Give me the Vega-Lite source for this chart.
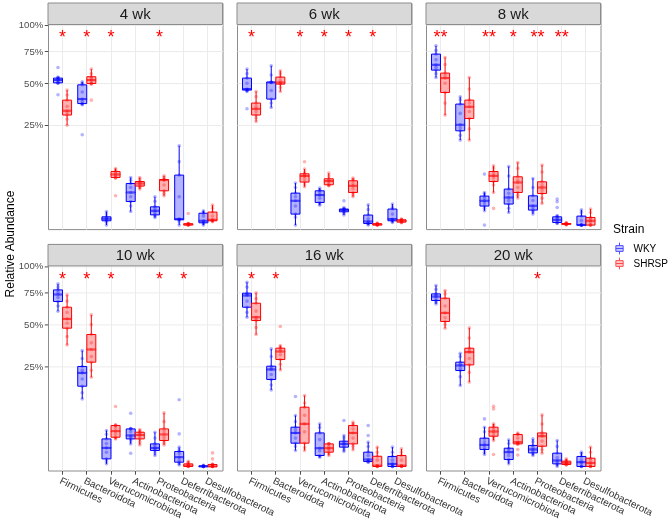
{
"$schema":"https://vega.github.io/schema/vega-lite/v6.json",
"padding":{"left":3,"top":2,"right":0,"bottom":0},
"title":{"text":"Relative Abundance","orient":"left","anchor":"middle","fontSize":12,"fontWeight":"normal","font":"Liberation Sans","color":"#000000","offset":1,"dx":17},
"datasets":{
"box":[
{"w":"4 wk","p":"Firmicutes","s":"WKY","v":[0.50,0.502,0.503,0.51,0.523,0.53,0.537,0.54,0.545],"o":[0.422,0.617]},
{"w":"4 wk","p":"Firmicutes","s":"SHRSP","v":[0.248,0.28,0.301,0.315,0.325,0.35,0.388,0.42,0.453],"o":[]},
{"w":"4 wk","p":"Bacteroidota","s":"WKY","v":[0.36,0.363,0.367,0.38,0.3945,0.44,0.489,0.50,0.51],"o":[0.203]},
{"w":"4 wk","p":"Bacteroidota","s":"SHRSP","v":[0.494,0.496,0.498,0.51,0.5225,0.535,0.547,0.57,0.605],"o":[0.388]},
{"w":"4 wk","p":"Verrucomicrobiota","s":"WKY","v":[0,0.0002,0.00046,0.0007,0.001,0.0013,0.0017,0.003,0.0046],"o":[]},
{"w":"4 wk","p":"Verrucomicrobiota","s":"SHRSP","v":[0.055,0.0555,0.0563,0.06,0.0636,0.067,0.0714,0.075,0.0796],"o":[0.0213]},
{"w":"4 wk","p":"Actinobacteriota","s":"WKY","v":[0.0046,0.009,0.0138,0.02,0.0264,0.035,0.043,0.05,0.0563],"o":[]},
{"w":"4 wk","p":"Actinobacteriota","s":"SHRSP","v":[0.0322,0.035,0.0378,0.04,0.043,0.045,0.0472,0.052,0.0563],"o":[]},
{"w":"4 wk","p":"Proteobacteria","s":"WKY","v":[0.0014,0.002,0.0026,0.004,0.0051,0.007,0.0083,0.014,0.0199],"o":[]},
{"w":"4 wk","p":"Proteobacteria","s":"SHRSP","v":[0.0213,0.025,0.0292,0.04,0.0503,0.051,0.0517,0.056,0.0604],"o":[]},
{"w":"4 wk","p":"Deferribacterota","s":"WKY","v":[0,0.0003,0.0007,0.0008,0.0009,0.02,0.0621,0.1,0.1563],"o":[]},
{"w":"4 wk","p":"Deferribacterota","s":"SHRSP","v":[0,0,0,0.00001,0.00002,0.00003,0.00004,0.00005,0.00006],"o":[0.0033]},
{"w":"4 wk","p":"Desulfobacterota","s":"WKY","v":[0,0.00005,0.00013,0.0003,0.00046,0.002,0.0035,0.0042,0.0051],"o":[]},
{"w":"4 wk","p":"Desulfobacterota","s":"SHRSP","v":[0.00027,0.0004,0.00046,0.0006,0.0007,0.002,0.0042,0.007,0.0099],"o":[]},
{"w":"6 wk","p":"Firmicutes","s":"WKY","v":[0.4436,0.448,0.453,0.456,0.46,0.5,0.537,0.57,0.605],"o":[0.336]},
{"w":"6 wk","p":"Firmicutes","s":"SHRSP","v":[0.2667,0.285,0.301,0.32,0.336,0.35,0.37,0.41,0.4436],"o":[]},
{"w":"6 wk","p":"Bacteroidota","s":"WKY","v":[0.3437,0.37,0.3945,0.45,0.5053,0.506,0.508,0.56,0.6306],"o":[]},
{"w":"6 wk","p":"Bacteroidota","s":"SHRSP","v":[0.4436,0.47,0.494,0.5,0.5053,0.52,0.5443,0.57,0.5917],"o":[]},
{"w":"6 wk","p":"Verrucomicrobiota","s":"WKY","v":[0,0.0015,0.003,0.009,0.0147,0.02,0.0254,0.035,0.0438],"o":[]},
{"w":"6 wk","p":"Verrucomicrobiota","s":"SHRSP","v":[0.0365,0.041,0.046,0.053,0.0597,0.062,0.0654,0.07,0.078],"o":[0.0996]},
{"w":"6 wk","p":"Actinobacteriota","s":"WKY","v":[0.0099,0.011,0.0127,0.018,0.0224,0.026,0.0292,0.031,0.034],"o":[]},
{"w":"6 wk","p":"Actinobacteriota","s":"SHRSP","v":[0.0384,0.039,0.0404,0.044,0.0481,0.05,0.0533,0.06,0.0672],"o":[]},
{"w":"6 wk","p":"Proteobacteria","s":"WKY","v":[0.0025,0.0035,0.0044,0.005,0.0056,0.006,0.0064,0.007,0.0074],"o":[0.0147]},
{"w":"6 wk","p":"Proteobacteria","s":"SHRSP","v":[0.0199,0.023,0.0264,0.033,0.0384,0.043,0.0488,0.052,0.0549],"o":[]},
{"w":"6 wk","p":"Deferribacterota","s":"WKY","v":[0,0.00003,0.00006,0.0002,0.00032,0.001,0.0025,0.006,0.0102],"o":[]},
{"w":"6 wk","p":"Deferribacterota","s":"SHRSP","v":[0,0,0,0.00001,0.00002,0.00003,0.00004,0.00005,0.0001],"o":[]},
{"w":"6 wk","p":"Desulfobacterota","s":"WKY","v":[0.00017,0.0003,0.00046,0.0007,0.0009,0.003,0.0064,0.008,0.011],"o":[]},
{"w":"6 wk","p":"Desulfobacterota","s":"SHRSP","v":[0.00013,0.00018,0.00022,0.0003,0.00046,0.0006,0.0007,0.0008,0.0009],"o":[]},
{"w":"8 wk","p":"Firmicutes","s":"WKY","v":[0.5414,0.57,0.597,0.62,0.6386,0.68,0.7266,0.76,0.7989],"o":[]},
{"w":"8 wk","p":"Firmicutes","s":"SHRSP","v":[0.3007,0.37,0.437,0.5,0.537,0.555,0.5741,0.64,0.698],"o":[]},
{"w":"8 wk","p":"Bacteroidota","s":"WKY","v":[0.1795,0.2,0.221,0.235,0.25,0.31,0.3638,0.39,0.4091],"o":[]},
{"w":"8 wk","p":"Bacteroidota","s":"SHRSP","v":[0.1795,0.23,0.2824,0.32,0.3478,0.37,0.3883,0.46,0.5414],"o":[]},
{"w":"8 wk","p":"Verrucomicrobiota","s":"WKY","v":[0.0051,0.007,0.009,0.012,0.0147,0.018,0.0209,0.024,0.0264],"o":[0.0646,0]},
{"w":"8 wk","p":"Verrucomicrobiota","s":"SHRSP","v":[0.0264,0.04,0.0472,0.055,0.0604,0.065,0.0714,0.08,0.0874],"o":[0.0069]},
{"w":"8 wk","p":"Actinobacteriota","s":"WKY","v":[0.0039,0.007,0.011,0.015,0.0189,0.025,0.0322,0.06,0.0853],"o":[]},
{"w":"8 wk","p":"Actinobacteriota","s":"SHRSP","v":[0.0181,0.022,0.0264,0.035,0.0451,0.05,0.058,0.08,0.0974],"o":[]},
{"w":"8 wk","p":"Proteobacteria","s":"WKY","v":[0.003,0.0045,0.0056,0.0075,0.0093,0.015,0.0213,0.035,0.054],"o":[]},
{"w":"8 wk","p":"Proteobacteria","s":"SHRSP","v":[0.0116,0.018,0.0248,0.03,0.0351,0.04,0.0466,0.07,0.0895],"o":[]},
{"w":"8 wk","p":"Deferribacterota","s":"WKY","v":[0.00006,0.0001,0.00017,0.0004,0.0007,0.0012,0.0017,0.002,0.0022],"o":[0.0168,0.0135,0.0077]},
{"w":"8 wk","p":"Deferribacterota","s":"SHRSP","v":[0,0.00001,0.00002,0.00002,0.00003,0.00004,0.00006,0.0001,0.00015],"o":[]},
{"w":"8 wk","p":"Desulfobacterota","s":"WKY","v":[0,0,0,0,0,0.0005,0.002,0.004,0.0058],"o":[]},
{"w":"8 wk","p":"Desulfobacterota","s":"SHRSP","v":[0,0,0,0.0002,0.00046,0.001,0.00144,0.004,0.0064],"o":[]},
{"w":"10 wk","p":"Firmicutes","s":"WKY","v":[0.5994,0.64,0.6766,0.71,0.7352,0.755,0.775,0.8,0.8286],"o":[]},
{"w":"10 wk","p":"Firmicutes","s":"SHRSP","v":[0.3675,0.42,0.4753,0.51,0.5414,0.59,0.6306,0.68,0.7318],"o":[]},
{"w":"10 wk","p":"Bacteroidota","s":"WKY","v":[0.1136,0.135,0.1602,0.19,0.2177,0.23,0.2485,0.29,0.3335],"o":[]},
{"w":"10 wk","p":"Bacteroidota","s":"SHRSP","v":[0.1982,0.23,0.2704,0.3,0.3402,0.38,0.433,0.5,0.5711],"o":[]},
{"w":"10 wk","p":"Verrucomicrobiota","s":"WKY","v":[0.00017,0.0007,0.00144,0.005,0.0086,0.013,0.0189,0.026,0.0322],"o":[]},
{"w":"10 wk","p":"Verrucomicrobiota","s":"SHRSP","v":[0.0189,0.02,0.0213,0.026,0.031,0.037,0.0418,0.042,0.043],"o":[0.0895]},
{"w":"10 wk","p":"Actinobacteriota","s":"WKY","v":[0.0127,0.016,0.0189,0.021,0.0239,0.03,0.0351,0.0355,0.036],"o":[0.0706,0.0044]},
{"w":"10 wk","p":"Actinobacteriota","s":"SHRSP","v":[0.0116,0.015,0.0189,0.022,0.0248,0.027,0.0292,0.031,0.034],"o":[]},
{"w":"10 wk","p":"Proteobacteria","s":"WKY","v":[0.003,0.0045,0.0064,0.0075,0.0086,0.011,0.0127,0.02,0.0292],"o":[]},
{"w":"10 wk","p":"Proteobacteria","s":"SHRSP","v":[0.0116,0.014,0.0168,0.021,0.0255,0.03,0.0351,0.05,0.0714],"o":[]},
{"w":"10 wk","p":"Deferribacterota","s":"WKY","v":[0.00006,0.0002,0.00046,0.001,0.00215,0.004,0.0056,0.007,0.0093],"o":[0.1106,0.0264]},
{"w":"10 wk","p":"Deferribacterota","s":"SHRSP","v":[0,0,0,0.00001,0.00002,0.0001,0.00017,0.0004,0.0007],"o":[]},
{"w":"10 wk","p":"Desulfobacterota","s":"WKY","v":[0,0,0,0,0,0,0.00001,0.00002,0.00003],"o":[]},
{"w":"10 wk","p":"Desulfobacterota","s":"SHRSP","v":[0,0,0,0,0,0.00005,0.0001,0.00012,0.00013],"o":[0.0046,0.00144]},
{"w":"16 wk","p":"Firmicutes","s":"WKY","v":[0.554,0.59,0.6306,0.68,0.7266,0.735,0.7464,0.8,0.844],"o":[]},
{"w":"16 wk","p":"Firmicutes","s":"SHRSP","v":[0.433,0.48,0.5297,0.54,0.554,0.6,0.6627,0.7,0.749],"o":[]},
{"w":"16 wk","p":"Bacteroidota","s":"WKY","v":[0.1458,0.165,0.1881,0.21,0.2338,0.24,0.25,0.3,0.3437],"o":[]},
{"w":"16 wk","p":"Bacteroidota","s":"SHRSP","v":[0.2319,0.26,0.2845,0.31,0.3287,0.34,0.3478,0.355,0.3638],"o":[0.4871]},
{"w":"16 wk","p":"Verrucomicrobiota","s":"WKY","v":[0.0064,0.01,0.0135,0.02,0.028,0.033,0.0384,0.05,0.0646],"o":[0.1218]},
{"w":"16 wk","p":"Verrucomicrobiota","s":"SHRSP","v":[0.0064,0.009,0.0135,0.03,0.0451,0.065,0.0874,0.1,0.1249],"o":[]},
{"w":"16 wk","p":"Actinobacteriota","s":"WKY","v":[0.00215,0.0025,0.003,0.006,0.0083,0.018,0.028,0.038,0.0451],"o":[]},
{"w":"16 wk","p":"Actinobacteriota","s":"SHRSP","v":[0.003,0.004,0.0051,0.007,0.0083,0.01,0.0127,0.0128,0.013],"o":[]},
{"w":"16 wk","p":"Proteobacteria","s":"WKY","v":[0.0056,0.007,0.0093,0.011,0.0127,0.014,0.0159,0.02,0.0239],"o":[0.0526]},
{"w":"16 wk","p":"Proteobacteria","s":"SHRSP","v":[0.0069,0.01,0.0127,0.02,0.028,0.035,0.0418,0.045,0.0488],"o":[]},
{"w":"16 wk","p":"Deferribacterota","s":"WKY","v":[0.00046,0.0005,0.0006,0.0009,0.0012,0.003,0.0051,0.01,0.0147],"o":[0.0418,0.0239]},
{"w":"16 wk","p":"Deferribacterota","s":"SHRSP","v":[0,0,0,0.00001,0.00002,0.001,0.0026,0.005,0.0093],"o":[]},
{"w":"16 wk","p":"Desulfobacterota","s":"WKY","v":[0,0,0,0.0001,0.00017,0.001,0.0025,0.005,0.0093],"o":[]},
{"w":"16 wk","p":"Desulfobacterota","s":"SHRSP","v":[0,0,0,0.00001,0.00002,0.001,0.003,0.005,0.0077],"o":[]},
{"w":"20 wk","p":"Firmicutes","s":"WKY","v":[0.657,0.67,0.6848,0.7,0.718,0.73,0.7403,0.78,0.8141],"o":[]},
{"w":"20 wk","p":"Firmicutes","s":"SHRSP","v":[0.4753,0.5,0.5225,0.55,0.5863,0.64,0.7039,0.74,0.7698],"o":[]},
{"w":"20 wk","p":"Bacteroidota","s":"WKY","v":[0.163,0.2,0.229,0.24,0.2535,0.26,0.2704,0.3,0.3184],"o":[]},
{"w":"20 wk","p":"Bacteroidota","s":"SHRSP","v":[0.177,0.22,0.2565,0.29,0.325,0.335,0.3478,0.41,0.4774],"o":[]},
{"w":"20 wk","p":"Verrucomicrobiota","s":"WKY","v":[0.0036,0.005,0.0072,0.009,0.0116,0.015,0.0199,0.03,0.0384],"o":[0.0563]},
{"w":"20 wk","p":"Verrucomicrobiota","s":"SHRSP","v":[0.0168,0.02,0.0228,0.027,0.0304,0.034,0.0384,0.042,0.0451],"o":[0.09,0.0824,0.0036]},
{"w":"20 wk","p":"Actinobacteriota","s":"WKY","v":[0.00017,0.0006,0.0012,0.003,0.0051,0.007,0.0083,0.013,0.0176],"o":[]},
{"w":"20 wk","p":"Actinobacteriota","s":"SHRSP","v":[0.0127,0.0127,0.0127,0.014,0.0147,0.02,0.0254,0.026,0.0276],"o":[0.0072,0.0033]},
{"w":"20 wk","p":"Proteobacteria","s":"WKY","v":[0.003,0.0038,0.0046,0.006,0.0072,0.009,0.011,0.015,0.0189],"o":[]},
{"w":"20 wk","p":"Proteobacteria","s":"SHRSP","v":[0.0044,0.007,0.0102,0.016,0.0228,0.025,0.028,0.045,0.0662],"o":[]},
{"w":"20 wk","p":"Deferribacterota","s":"WKY","v":[0,0.00008,0.00017,0.0005,0.0009,0.002,0.0044,0.01,0.0168],"o":[]},
{"w":"20 wk","p":"Deferribacterota","s":"SHRSP","v":[0.00006,0.00008,0.0001,0.0002,0.00032,0.0005,0.0007,0.001,0.00144],"o":[]},
{"w":"20 wk","p":"Desulfobacterota","s":"WKY","v":[0,0,0,0.0002,0.00046,0.001,0.0025,0.004,0.0051],"o":[]},
{"w":"20 wk","p":"Desulfobacterota","s":"SHRSP","v":[0,0,0,0.0001,0.00032,0.001,0.0017,0.005,0.0093],"o":[]}
],
"stars":[
{"w":"4 wk","p":"Firmicutes","t":"*"},{"w":"4 wk","p":"Bacteroidota","t":"*"},{"w":"4 wk","p":"Verrucomicrobiota","t":"*"},{"w":"4 wk","p":"Proteobacteria","t":"*"},
{"w":"6 wk","p":"Firmicutes","t":"*"},{"w":"6 wk","p":"Verrucomicrobiota","t":"*"},{"w":"6 wk","p":"Actinobacteriota","t":"*"},{"w":"6 wk","p":"Proteobacteria","t":"*"},{"w":"6 wk","p":"Deferribacterota","t":"*"},
{"w":"8 wk","p":"Firmicutes","t":"**"},{"w":"8 wk","p":"Verrucomicrobiota","t":"**"},{"w":"8 wk","p":"Actinobacteriota","t":"*"},{"w":"8 wk","p":"Proteobacteria","t":"**"},{"w":"8 wk","p":"Deferribacterota","t":"**"},
{"w":"10 wk","p":"Firmicutes","t":"*"},{"w":"10 wk","p":"Bacteroidota","t":"*"},{"w":"10 wk","p":"Verrucomicrobiota","t":"*"},{"w":"10 wk","p":"Proteobacteria","t":"*"},{"w":"10 wk","p":"Deferribacterota","t":"*"},
{"w":"16 wk","p":"Firmicutes","t":"*"},{"w":"16 wk","p":"Bacteroidota","t":"*"},
{"w":"20 wk","p":"Proteobacteria","t":"*"}
],
"weeks":[{"w":"4 wk"},{"w":"6 wk"},{"w":"8 wk"},{"w":"10 wk"},{"w":"16 wk"},{"w":"20 wk"}]
},
"columns":3,
"bounds":"flush",
"spacing":{"row":14.4,"column":14},
"concat":[
{"width":174.5,"height":226.1,"layer":[
{"data":{"name":"box"},"transform":[{"filter":"datum.w==='4 wk'"},{"flatten":["v"],"as":["y"]}],
"mark":{"type":"boxplot","extent":"min-max","size":9,"box":{"strokeWidth":1},"median":{"strokeWidth":1,"thickness":1},"rule":{"strokeWidth":1},"ticks":false},
"encoding":{
"x":{"field":"p","type":"nominal","title":null,"sort":["Firmicutes","Bacteroidota","Verrucomicrobiota","Actinobacteriota","Proteobacteria","Deferribacterota","Desulfobacterota"],"scale":{"paddingInner":0,"paddingOuter":0.1},"axis":{"bandPosition":0.5,"labels":false,"ticks":false,"grid":true}},
"xOffset":{"field":"s","type":"nominal","sort":["WKY","SHRSP"],"scale":{"paddingInner":0,"paddingOuter":0.333}},
"y":{"field":"y","type":"quantitative","title":null,"scale":{"type":"sqrt","domain":[-0.0004,1.2259],"nice":false,"zero":false},"axis":{"values":[0.25,0.5,0.75,1],"format":".0%","labelPadding":1.5,"tickSize":3.7,"grid":true}},
"fill":{"field":"s","type":"nominal","title":"Strain","scale":{"domain":["WKY","SHRSP"],"range":["#b3b3ff","#ffb3b3"]},"legend":{"title":"Strain","orient":"none","legendX":565,"legendY":221,"symbolType":"M-0.62,-0.49H0.62V0.49H-0.62Z M-0.62,0H0.62 M0,-0.49V-1 M0,0.49V1","symbolSize":137,"symbolStrokeWidth":1,"titleFontSize":12,"titleFontWeight":"normal","titleFont":"Liberation Sans","titleColor":"#000000","titlePadding":6,"labelFontSize":10,"labelFont":"Liberation Sans","labelColor":"#000000","labelOffset":7.5,"rowPadding":-4}},
"stroke":{"field":"s","type":"nominal","title":"Strain","scale":{"domain":["WKY","SHRSP"],"range":["#0000ff","#ff0000"]},"legend":{"title":"Strain","orient":"none","legendX":565,"legendY":221,"symbolType":"M-0.62,-0.49H0.62V0.49H-0.62Z M-0.62,0H0.62 M0,-0.49V-1 M0,0.49V1","symbolSize":137,"symbolStrokeWidth":1,"titleFontSize":12,"titleFontWeight":"normal","titleFont":"Liberation Sans","titleColor":"#000000","titlePadding":6,"labelFontSize":10,"labelFont":"Liberation Sans","labelColor":"#000000","labelOffset":7.5,"rowPadding":-4}}
}},
{"data":{"name":"box"},"transform":[{"filter":"datum.w==='4 wk'"},{"fold":["v","o"],"as":["k","arr"]},{"flatten":["arr"],"as":["y"]}],
"mark":{"type":"circle","size":13,"opacity":1,"blend":"multiply"},
"encoding":{"x":{"field":"p","type":"nominal","sort":["Firmicutes","Bacteroidota","Verrucomicrobiota","Actinobacteriota","Proteobacteria","Deferribacterota","Desulfobacterota"]},"xOffset":{"field":"s","type":"nominal","sort":["WKY","SHRSP"]},"y":{"field":"y","type":"quantitative"},"fill":{"field":"s","type":"nominal","title":"Strain"}}},
{"data":{"name":"stars"},"transform":[{"filter":"datum.w==='4 wk'"}],
"mark":{"type":"text","color":"#ff0000","fontSize":18,"baseline":"alphabetic","font":"Liberation Sans"},
"encoding":{"x":{"field":"p","type":"nominal","sort":["Firmicutes","Bacteroidota","Verrucomicrobiota","Actinobacteriota","Proteobacteria","Deferribacterota","Desulfobacterota"]},"y":{"datum":0.82},"text":{"field":"t"}}},
{"data":{"name":"weeks"},"transform":[{"filter":"datum.w==='4 wk'"}],"mark":{"type":"rect","fill":"#d9d9d9","stroke":"#8c8c8c","strokeWidth":1},"encoding":{"y":{"datum":1},"y2":{"datum":1.2259}}},
{"data":{"name":"weeks"},"transform":[{"filter":"datum.w==='4 wk'"}],"mark":{"type":"text","fontSize":15,"font":"Liberation Sans","color":"#1a1a1a","baseline":"middle"},"encoding":{"y":{"datum":1.107},"text":{"field":"w"}}}
]},
{"width":174.5,"height":226.1,"layer":[
{"data":{"name":"box"},"transform":[{"filter":"datum.w==='6 wk'"},{"flatten":["v"],"as":["y"]}],
"mark":{"type":"boxplot","extent":"min-max","size":9,"box":{"strokeWidth":1},"median":{"strokeWidth":1,"thickness":1},"rule":{"strokeWidth":1},"ticks":false},
"encoding":{
"x":{"field":"p","type":"nominal","title":null,"sort":["Firmicutes","Bacteroidota","Verrucomicrobiota","Actinobacteriota","Proteobacteria","Deferribacterota","Desulfobacterota"],"scale":{"paddingInner":0,"paddingOuter":0.1},"axis":{"bandPosition":0.5,"labels":false,"ticks":false,"grid":true}},
"xOffset":{"field":"s","type":"nominal","sort":["WKY","SHRSP"],"scale":{"paddingInner":0,"paddingOuter":0.333}},
"y":{"field":"y","type":"quantitative","title":null,"scale":{"type":"sqrt","domain":[-0.0004,1.2259],"nice":false,"zero":false},"axis":{"values":[0.25,0.5,0.75,1],"labels":false,"ticks":false,"grid":true}},
"fill":{"field":"s","type":"nominal","title":"Strain"},
"stroke":{"field":"s","type":"nominal","title":"Strain"}
}},
{"data":{"name":"box"},"transform":[{"filter":"datum.w==='6 wk'"},{"fold":["v","o"],"as":["k","arr"]},{"flatten":["arr"],"as":["y"]}],
"mark":{"type":"circle","size":13,"opacity":1,"blend":"multiply"},
"encoding":{"x":{"field":"p","type":"nominal","sort":["Firmicutes","Bacteroidota","Verrucomicrobiota","Actinobacteriota","Proteobacteria","Deferribacterota","Desulfobacterota"]},"xOffset":{"field":"s","type":"nominal","sort":["WKY","SHRSP"]},"y":{"field":"y","type":"quantitative"},"fill":{"field":"s","type":"nominal","title":"Strain"}}},
{"data":{"name":"stars"},"transform":[{"filter":"datum.w==='6 wk'"}],
"mark":{"type":"text","color":"#ff0000","fontSize":18,"baseline":"alphabetic","font":"Liberation Sans"},
"encoding":{"x":{"field":"p","type":"nominal","sort":["Firmicutes","Bacteroidota","Verrucomicrobiota","Actinobacteriota","Proteobacteria","Deferribacterota","Desulfobacterota"]},"y":{"datum":0.82},"text":{"field":"t"}}},
{"data":{"name":"weeks"},"transform":[{"filter":"datum.w==='6 wk'"}],"mark":{"type":"rect","fill":"#d9d9d9","stroke":"#8c8c8c","strokeWidth":1},"encoding":{"y":{"datum":1},"y2":{"datum":1.2259}}},
{"data":{"name":"weeks"},"transform":[{"filter":"datum.w==='6 wk'"}],"mark":{"type":"text","fontSize":15,"font":"Liberation Sans","color":"#1a1a1a","baseline":"middle"},"encoding":{"y":{"datum":1.107},"text":{"field":"w"}}}
]},
{"width":174.5,"height":226.1,"layer":[
{"data":{"name":"box"},"transform":[{"filter":"datum.w==='8 wk'"},{"flatten":["v"],"as":["y"]}],
"mark":{"type":"boxplot","extent":"min-max","size":9,"box":{"strokeWidth":1},"median":{"strokeWidth":1,"thickness":1},"rule":{"strokeWidth":1},"ticks":false},
"encoding":{
"x":{"field":"p","type":"nominal","title":null,"sort":["Firmicutes","Bacteroidota","Verrucomicrobiota","Actinobacteriota","Proteobacteria","Deferribacterota","Desulfobacterota"],"scale":{"paddingInner":0,"paddingOuter":0.1},"axis":{"bandPosition":0.5,"labels":false,"ticks":false,"grid":true}},
"xOffset":{"field":"s","type":"nominal","sort":["WKY","SHRSP"],"scale":{"paddingInner":0,"paddingOuter":0.333}},
"y":{"field":"y","type":"quantitative","title":null,"scale":{"type":"sqrt","domain":[-0.0004,1.2259],"nice":false,"zero":false},"axis":{"values":[0.25,0.5,0.75,1],"labels":false,"ticks":false,"grid":true}},
"fill":{"field":"s","type":"nominal","title":"Strain"},
"stroke":{"field":"s","type":"nominal","title":"Strain"}
}},
{"data":{"name":"box"},"transform":[{"filter":"datum.w==='8 wk'"},{"fold":["v","o"],"as":["k","arr"]},{"flatten":["arr"],"as":["y"]}],
"mark":{"type":"circle","size":13,"opacity":1,"blend":"multiply"},
"encoding":{"x":{"field":"p","type":"nominal","sort":["Firmicutes","Bacteroidota","Verrucomicrobiota","Actinobacteriota","Proteobacteria","Deferribacterota","Desulfobacterota"]},"xOffset":{"field":"s","type":"nominal","sort":["WKY","SHRSP"]},"y":{"field":"y","type":"quantitative"},"fill":{"field":"s","type":"nominal","title":"Strain"}}},
{"data":{"name":"stars"},"transform":[{"filter":"datum.w==='8 wk'"}],
"mark":{"type":"text","color":"#ff0000","fontSize":18,"baseline":"alphabetic","font":"Liberation Sans"},
"encoding":{"x":{"field":"p","type":"nominal","sort":["Firmicutes","Bacteroidota","Verrucomicrobiota","Actinobacteriota","Proteobacteria","Deferribacterota","Desulfobacterota"]},"y":{"datum":0.82},"text":{"field":"t"}}},
{"data":{"name":"weeks"},"transform":[{"filter":"datum.w==='8 wk'"}],"mark":{"type":"rect","fill":"#d9d9d9","stroke":"#8c8c8c","strokeWidth":1},"encoding":{"y":{"datum":1},"y2":{"datum":1.2259}}},
{"data":{"name":"weeks"},"transform":[{"filter":"datum.w==='8 wk'"}],"mark":{"type":"text","fontSize":15,"font":"Liberation Sans","color":"#1a1a1a","baseline":"middle"},"encoding":{"y":{"datum":1.107},"text":{"field":"w"}}}
]},
{"width":174.5,"height":226.1,"layer":[
{"data":{"name":"box"},"transform":[{"filter":"datum.w==='10 wk'"},{"flatten":["v"],"as":["y"]}],
"mark":{"type":"boxplot","extent":"min-max","size":9,"box":{"strokeWidth":1},"median":{"strokeWidth":1,"thickness":1},"rule":{"strokeWidth":1},"ticks":false},
"encoding":{
"x":{"field":"p","type":"nominal","title":null,"sort":["Firmicutes","Bacteroidota","Verrucomicrobiota","Actinobacteriota","Proteobacteria","Deferribacterota","Desulfobacterota"],"scale":{"paddingInner":0,"paddingOuter":0.1},"axis":{"bandPosition":0.5,"labelAngle":26,"labelAlign":"left","labelBaseline":"top","labelOverlap":false,"tickSize":3.7,"labelFontSize":10,"labelColor":"#333333","labelPadding":1,"grid":true}},
"xOffset":{"field":"s","type":"nominal","sort":["WKY","SHRSP"],"scale":{"paddingInner":0,"paddingOuter":0.333}},
"y":{"field":"y","type":"quantitative","title":null,"scale":{"type":"sqrt","domain":[-0.0004,1.2259],"nice":false,"zero":false},"axis":{"values":[0.25,0.5,0.75,1],"format":".0%","labelPadding":1.5,"tickSize":3.7,"grid":true}},
"fill":{"field":"s","type":"nominal","title":"Strain"},
"stroke":{"field":"s","type":"nominal","title":"Strain"}
}},
{"data":{"name":"box"},"transform":[{"filter":"datum.w==='10 wk'"},{"fold":["v","o"],"as":["k","arr"]},{"flatten":["arr"],"as":["y"]}],
"mark":{"type":"circle","size":13,"opacity":1,"blend":"multiply"},
"encoding":{"x":{"field":"p","type":"nominal","sort":["Firmicutes","Bacteroidota","Verrucomicrobiota","Actinobacteriota","Proteobacteria","Deferribacterota","Desulfobacterota"]},"xOffset":{"field":"s","type":"nominal","sort":["WKY","SHRSP"]},"y":{"field":"y","type":"quantitative"},"fill":{"field":"s","type":"nominal","title":"Strain"}}},
{"data":{"name":"stars"},"transform":[{"filter":"datum.w==='10 wk'"}],
"mark":{"type":"text","color":"#ff0000","fontSize":18,"baseline":"alphabetic","font":"Liberation Sans"},
"encoding":{"x":{"field":"p","type":"nominal","sort":["Firmicutes","Bacteroidota","Verrucomicrobiota","Actinobacteriota","Proteobacteria","Deferribacterota","Desulfobacterota"]},"y":{"datum":0.82},"text":{"field":"t"}}},
{"data":{"name":"weeks"},"transform":[{"filter":"datum.w==='10 wk'"}],"mark":{"type":"rect","fill":"#d9d9d9","stroke":"#8c8c8c","strokeWidth":1},"encoding":{"y":{"datum":1},"y2":{"datum":1.2259}}},
{"data":{"name":"weeks"},"transform":[{"filter":"datum.w==='10 wk'"}],"mark":{"type":"text","fontSize":15,"font":"Liberation Sans","color":"#1a1a1a","baseline":"middle"},"encoding":{"y":{"datum":1.107},"text":{"field":"w"}}}
]},
{"width":174.5,"height":226.1,"layer":[
{"data":{"name":"box"},"transform":[{"filter":"datum.w==='16 wk'"},{"flatten":["v"],"as":["y"]}],
"mark":{"type":"boxplot","extent":"min-max","size":9,"box":{"strokeWidth":1},"median":{"strokeWidth":1,"thickness":1},"rule":{"strokeWidth":1},"ticks":false},
"encoding":{
"x":{"field":"p","type":"nominal","title":null,"sort":["Firmicutes","Bacteroidota","Verrucomicrobiota","Actinobacteriota","Proteobacteria","Deferribacterota","Desulfobacterota"],"scale":{"paddingInner":0,"paddingOuter":0.1},"axis":{"bandPosition":0.5,"labelAngle":26,"labelAlign":"left","labelBaseline":"top","labelOverlap":false,"tickSize":3.7,"labelFontSize":10,"labelColor":"#333333","labelPadding":1,"grid":true}},
"xOffset":{"field":"s","type":"nominal","sort":["WKY","SHRSP"],"scale":{"paddingInner":0,"paddingOuter":0.333}},
"y":{"field":"y","type":"quantitative","title":null,"scale":{"type":"sqrt","domain":[-0.0004,1.2259],"nice":false,"zero":false},"axis":{"values":[0.25,0.5,0.75,1],"labels":false,"ticks":false,"grid":true}},
"fill":{"field":"s","type":"nominal","title":"Strain"},
"stroke":{"field":"s","type":"nominal","title":"Strain"}
}},
{"data":{"name":"box"},"transform":[{"filter":"datum.w==='16 wk'"},{"fold":["v","o"],"as":["k","arr"]},{"flatten":["arr"],"as":["y"]}],
"mark":{"type":"circle","size":13,"opacity":1,"blend":"multiply"},
"encoding":{"x":{"field":"p","type":"nominal","sort":["Firmicutes","Bacteroidota","Verrucomicrobiota","Actinobacteriota","Proteobacteria","Deferribacterota","Desulfobacterota"]},"xOffset":{"field":"s","type":"nominal","sort":["WKY","SHRSP"]},"y":{"field":"y","type":"quantitative"},"fill":{"field":"s","type":"nominal","title":"Strain"}}},
{"data":{"name":"stars"},"transform":[{"filter":"datum.w==='16 wk'"}],
"mark":{"type":"text","color":"#ff0000","fontSize":18,"baseline":"alphabetic","font":"Liberation Sans"},
"encoding":{"x":{"field":"p","type":"nominal","sort":["Firmicutes","Bacteroidota","Verrucomicrobiota","Actinobacteriota","Proteobacteria","Deferribacterota","Desulfobacterota"]},"y":{"datum":0.82},"text":{"field":"t"}}},
{"data":{"name":"weeks"},"transform":[{"filter":"datum.w==='16 wk'"}],"mark":{"type":"rect","fill":"#d9d9d9","stroke":"#8c8c8c","strokeWidth":1},"encoding":{"y":{"datum":1},"y2":{"datum":1.2259}}},
{"data":{"name":"weeks"},"transform":[{"filter":"datum.w==='16 wk'"}],"mark":{"type":"text","fontSize":15,"font":"Liberation Sans","color":"#1a1a1a","baseline":"middle"},"encoding":{"y":{"datum":1.107},"text":{"field":"w"}}}
]},
{"width":174.5,"height":226.1,"layer":[
{"data":{"name":"box"},"transform":[{"filter":"datum.w==='20 wk'"},{"flatten":["v"],"as":["y"]}],
"mark":{"type":"boxplot","extent":"min-max","size":9,"box":{"strokeWidth":1},"median":{"strokeWidth":1,"thickness":1},"rule":{"strokeWidth":1},"ticks":false},
"encoding":{
"x":{"field":"p","type":"nominal","title":null,"sort":["Firmicutes","Bacteroidota","Verrucomicrobiota","Actinobacteriota","Proteobacteria","Deferribacterota","Desulfobacterota"],"scale":{"paddingInner":0,"paddingOuter":0.1},"axis":{"bandPosition":0.5,"labelAngle":26,"labelAlign":"left","labelBaseline":"top","labelOverlap":false,"tickSize":3.7,"labelFontSize":10,"labelColor":"#333333","labelPadding":1,"grid":true}},
"xOffset":{"field":"s","type":"nominal","sort":["WKY","SHRSP"],"scale":{"paddingInner":0,"paddingOuter":0.333}},
"y":{"field":"y","type":"quantitative","title":null,"scale":{"type":"sqrt","domain":[-0.0004,1.2259],"nice":false,"zero":false},"axis":{"values":[0.25,0.5,0.75,1],"labels":false,"ticks":false,"grid":true}},
"fill":{"field":"s","type":"nominal","title":"Strain"},
"stroke":{"field":"s","type":"nominal","title":"Strain"}
}},
{"data":{"name":"box"},"transform":[{"filter":"datum.w==='20 wk'"},{"fold":["v","o"],"as":["k","arr"]},{"flatten":["arr"],"as":["y"]}],
"mark":{"type":"circle","size":13,"opacity":1,"blend":"multiply"},
"encoding":{"x":{"field":"p","type":"nominal","sort":["Firmicutes","Bacteroidota","Verrucomicrobiota","Actinobacteriota","Proteobacteria","Deferribacterota","Desulfobacterota"]},"xOffset":{"field":"s","type":"nominal","sort":["WKY","SHRSP"]},"y":{"field":"y","type":"quantitative"},"fill":{"field":"s","type":"nominal","title":"Strain"}}},
{"data":{"name":"stars"},"transform":[{"filter":"datum.w==='20 wk'"}],
"mark":{"type":"text","color":"#ff0000","fontSize":18,"baseline":"alphabetic","font":"Liberation Sans"},
"encoding":{"x":{"field":"p","type":"nominal","sort":["Firmicutes","Bacteroidota","Verrucomicrobiota","Actinobacteriota","Proteobacteria","Deferribacterota","Desulfobacterota"]},"y":{"datum":0.82},"text":{"field":"t"}}},
{"data":{"name":"weeks"},"transform":[{"filter":"datum.w==='20 wk'"}],"mark":{"type":"rect","fill":"#d9d9d9","stroke":"#8c8c8c","strokeWidth":1},"encoding":{"y":{"datum":1},"y2":{"datum":1.2259}}},
{"data":{"name":"weeks"},"transform":[{"filter":"datum.w==='20 wk'"}],"mark":{"type":"text","fontSize":15,"font":"Liberation Sans","color":"#1a1a1a","baseline":"middle"},"encoding":{"y":{"datum":1.107},"text":{"field":"w"}}}
]}
],
"config":{
"font":"Liberation Sans",
"view":{"stroke":"#8c8c8c","strokeWidth":1},
"axis":{"domain":false,"gridColor":"#ebebeb","gridWidth":1,"tickColor":"#4d4d4d","labelColor":"#4d4d4d","labelFont":"Liberation Sans","labelFontSize":9.6}
}
}
